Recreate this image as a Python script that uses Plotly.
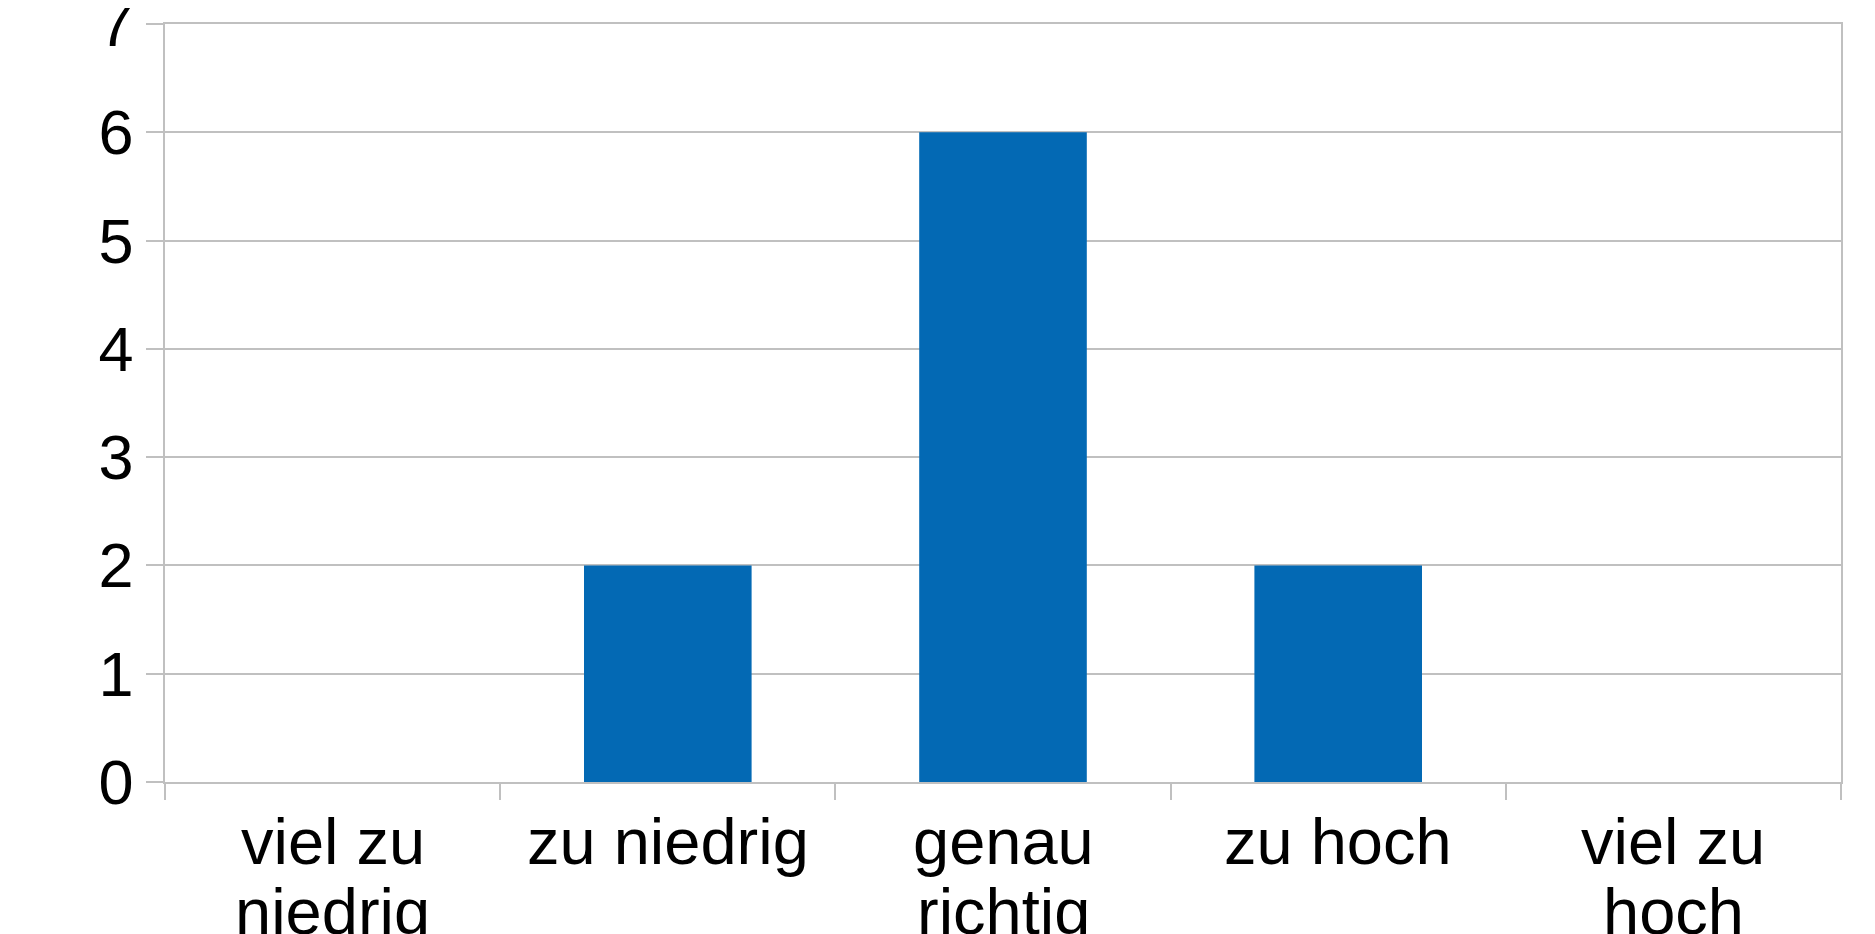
import plotly.graph_objects as go

categories = ["viel zu<br>niedrig", "zu niedrig", "genau<br>richtig", "zu hoch", "viel zu<br>hoch"]
counts = [0, 2, 6, 2, 0]
y_ticks = [0, 1, 2, 3, 4, 5, 6, 7]

bar_color = "#0369b4"
grid_color = "#c0c0c0"
font_family = "Liberation Sans, Arial, sans-serif"
x_font_size = 65
y_font_size = 63

fig = go.Figure(
    go.Bar(x=categories, y=counts, marker=dict(color=bar_color, line=dict(width=0)), width=0.5)
)

# category labels drawn as annotations to get the tight line spacing of the original
line_shifts = [-21, -91]
for cat in categories:
    for i, part in enumerate(cat.split("<br>")):
        fig.add_annotation(
            x=cat, xref="x", y=0, yref="paper",
            text=part, showarrow=False,
            xanchor="center", yanchor="top", yshift=line_shifts[i],
            font=dict(family=font_family, size=x_font_size, color="black"),
        )

fig.update_layout(
    width=1875,
    height=934,
    margin=dict(l=157, r=42, t=16, b=160),
    paper_bgcolor="white",
    plot_bgcolor="white",
    showlegend=False,
    font=dict(family=font_family, size=x_font_size, color="black"),
    bargap=0.5,
)

fig.update_xaxes(
    showline=True,
    linecolor=grid_color,
    linewidth=1.5,
    mirror=True,
    ticks="outside",
    tickson="boundaries",
    ticklen=16,
    tickcolor=grid_color,
    tickwidth=1.5,
    showgrid=False,
    showticklabels=False,
    automargin=False,
)

fig.update_yaxes(
    range=[0, 7],
    tickvals=y_ticks,
    showline=True,
    linecolor=grid_color,
    linewidth=1.5,
    mirror=True,
    ticks="outside",
    ticklen=17,
    tickcolor=grid_color,
    tickwidth=1.5,
    showgrid=True,
    gridcolor=grid_color,
    gridwidth=1.5,
    zeroline=False,
    tickfont=dict(family=font_family, size=y_font_size, color="black"),
    ticklabelstandoff=0,
    ticklabeloverflow="allow",
    automargin=False,
)

fig.write_html("out.html")
